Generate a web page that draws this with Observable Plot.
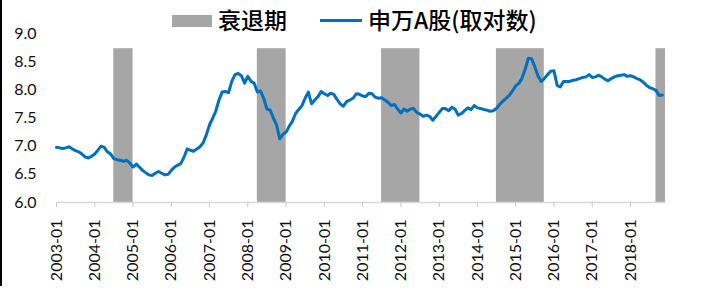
<!DOCTYPE html>
<html>
<head>
<meta charset="utf-8">
<script src="https://cdn.jsdelivr.net/npm/d3@7"></script>
<script src="https://cdn.jsdelivr.net/npm/@observablehq/plot@0.6"></script>
<style>
  html, body { margin: 0; padding: 0; background: #fff; }
  #wrap { position: relative; width: 710px; height: 295px; overflow: hidden; }
  #border { position: absolute; left: 0; top: 0; width: 2px; height: 286px; background: #000; }
  .leg { position: absolute; font-family: "Noto Sans CJK SC", sans-serif; font-size: 23px; font-weight: 500; color: #000; line-height: 1; }
  .swatch { position: absolute; }
</style>
</head>
<body>
<div id="wrap">
  <div id="chart"></div>
  <div id="border"></div>
  <div class="swatch" style="left:172px;top:15px;width:40px;height:12px;background:#A6A6A6"></div>
  <div class="leg" id="l1" style="left:218px;top:8px">衰退期</div>
  <div class="swatch" style="left:320px;top:19px;width:42px;height:3px;background:#0070C0"></div>
  <div class="leg" id="l2" style="left:368px;top:8px">申万A股(取对数)</div>
</div>
<script>
// Monthly series, starting 2003-01
const startMonth = "2003-01";
const swLogValues = [
  // 2003
  6.98, 6.97, 6.96, 6.97, 6.99, 6.95, 6.92, 6.90, 6.86, 6.81, 6.79, 6.82,
  // 2004
  6.86, 6.93, 7.00, 6.98, 6.90, 6.86, 6.78, 6.76, 6.75, 6.73, 6.75, 6.70,
  // 2005
  6.63, 6.68, 6.63, 6.57, 6.53, 6.49, 6.48, 6.52, 6.55, 6.52, 6.49, 6.50,
  // 2006
  6.57, 6.63, 6.66, 6.69, 6.80, 6.95, 6.93, 6.91, 6.95, 6.99, 7.06, 7.20,
  // 2007
  7.38, 7.50, 7.62, 7.82, 7.96, 7.97, 7.95, 8.15, 8.27, 8.29, 8.25, 8.12,
  // 2008
  8.24, 8.15, 8.12, 7.96, 7.98, 7.85, 7.66, 7.64, 7.50, 7.38, 7.13, 7.21,
  // 2009
  7.25, 7.36, 7.44, 7.58, 7.65, 7.72, 7.85, 7.96, 7.75, 7.82, 7.88, 7.97,
  // 2010
  7.93, 7.90, 7.94, 7.92, 7.83, 7.75, 7.71, 7.79, 7.82, 7.85, 7.93, 7.92,
  // 2011
  7.89, 7.88, 7.94, 7.93, 7.87, 7.85, 7.86, 7.82, 7.78, 7.72, 7.74, 7.66,
  // 2012
  7.59, 7.66, 7.62, 7.66, 7.67, 7.60, 7.57, 7.53, 7.55, 7.53, 7.46, 7.53,
  // 2013
  7.60, 7.67, 7.67, 7.63, 7.69, 7.66, 7.55, 7.58, 7.63, 7.68, 7.65, 7.72,
  // 2014
  7.68, 7.67, 7.65, 7.64, 7.62, 7.63, 7.67, 7.74, 7.80, 7.85, 7.90, 7.98,
  // 2015
  8.07, 8.12, 8.20, 8.36, 8.56, 8.55, 8.42, 8.25, 8.15, 8.20, 8.27, 8.33,
  // 2016
  8.34, 8.08, 8.05, 8.15, 8.15, 8.15, 8.17, 8.18, 8.20, 8.22, 8.23, 8.27,
  // 2017
  8.22, 8.23, 8.26, 8.23, 8.19, 8.16, 8.20, 8.23, 8.25, 8.26, 8.27, 8.24,
  // 2018
  8.25, 8.23, 8.20, 8.18, 8.14, 8.08, 8.04, 8.02, 7.99, 7.90, 7.91
];

// Recession periods (start month inclusive, end month exclusive)
const recessionStart = ["2004-07", "2008-04", "2011-07", "2014-07", "2018-09"];
const recessionEnd   = ["2005-01", "2009-01", "2012-07", "2015-10", "2018-12"];
const recessionTop = 8.73;

const yTicks = [6.0, 6.5, 7.0, 7.5, 8.0, 8.5, 9.0];
const xTickLabels = ["2003-01","2004-01","2005-01","2006-01","2007-01","2008-01","2009-01","2010-01",
  "2011-01","2012-01","2013-01","2014-01","2015-01","2016-01","2017-01","2018-01"];
const domainStart = "2003-01";
const domainEnd = "2018-12";

const parseMonth = d3.utcParse("%Y-%m");
const fmtMonth = d3.utcFormat("%Y-%m");
const start = parseMonth(startMonth);
const series = swLogValues.map((v, i) => ({date: d3.utcMonth.offset(start, i), value: v}));
const bands = recessionStart.map((s, i) => ({x1: parseMonth(s), x2: parseMonth(recessionEnd[i])}));

const chart = Plot.plot({
  width: 710,
  height: 295,
  marginLeft: 56,
  marginRight: 45,
  marginTop: 33,
  marginBottom: 93,
  style: {fontFamily: "Lato, sans-serif", fontSize: "16px", color: "#111", background: "transparent", overflow: "visible"},
  x: {type: "utc", domain: [parseMonth(domainStart), parseMonth(domainEnd)]},
  y: {domain: [6, 9]},
  marks: [
    Plot.rect(bands, {x1: "x1", x2: "x2", y1: 6, y2: recessionTop, fill: "#A6A6A6"}),
    Plot.ruleY([6], {stroke: "#d9d9d9", strokeWidth: 1.5}),
    Plot.line(series, {x: "date", y: "value", stroke: "#0070C0", strokeWidth: 3, strokeLinejoin: "round"}),
    Plot.axisY({ticks: yTicks, tickFormat: d3.format(".1f"), tickSize: 0, tickPadding: 20, fontSize: 16, label: null}),
    Plot.axisX({ticks: xTickLabels.map(parseMonth), tickFormat: fmtMonth, tickRotate: -90, tickSize: 5,
      stroke: "#c8c8c8", tickPadding: 12, fontSize: 16, label: null})
  ]
});
document.getElementById("chart").appendChild(chart);
</script>
</body>
</html>
